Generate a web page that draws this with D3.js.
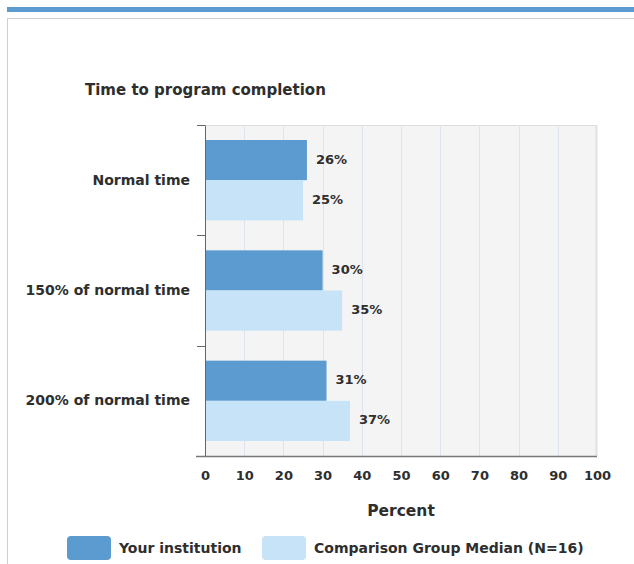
<!DOCTYPE html>
<html lang="en">
<head>
    <meta charset="utf-8">
    <title>Time to program completion</title>
    <style>
        html, body { margin: 0; padding: 0; background: #fff; }
        text { font-family: "DejaVu Sans", sans-serif; font-weight: bold; fill: #2e2e2e; }
    </style>
</head>
<body>
    <svg id="chart" width="634" height="564"></svg>
    <script src="https://cdn.jsdelivr.net/npm/d3@7"></script>
    <script>
        // data
        const categories = ["Normal time", "150% of normal time", "200% of normal time"];
        const seriesNames = ["Your institution", "Comparison Group Median (N=16)"];
        const institution = [26, 30, 31];
        const comparison = [25, 35, 37];
        const xTicks = [0, 10, 20, 30, 40, 50, 60, 70, 80, 90, 100];

        const colors = ["#5b9bd0", "#c6e3f7"];

        const svg = d3.select("#chart");
        const width = +svg.attr("width");
        const height = +svg.attr("height");

        // page chrome
        svg.append("rect")
            .attr("x", 7).attr("y", 7)
            .attr("width", width - 7).attr("height", 5)
            .attr("fill", "#5b9bd0");
        svg.append("rect")
            .attr("x", 7.5).attr("y", 18.5)
            .attr("width", 700).attr("height", 700)
            .attr("fill", "none")
            .attr("stroke", "#cfcfcf");

        svg.append("text")
            .attr("x", 85).attr("y", 95)
            .attr("font-size", 15)
            .text("Time to program completion");

        const margin = {left: 205, right: 37, top: 125, bottom: 108};
        const x = d3.scaleLinear()
            .domain([0, 100])
            .range([margin.left, width - margin.right]);
        const y = d3.scaleBand()
            .domain(categories)
            .range([margin.top, height - margin.bottom]);
        const ySub = d3.scaleBand()
            .domain(d3.range(seriesNames.length))
            .range([15, y.bandwidth() - 15]);

        const rows = categories.map((c, i) => ({
            cat: c,
            values: [institution[i], comparison[i]]
        }));

        // plot background
        svg.append("rect")
            .attr("x", x(0)).attr("y", margin.top)
            .attr("width", x(100) - x(0))
            .attr("height", height - margin.bottom - margin.top)
            .attr("fill", "#f4f4f4");
        svg.append("line")
            .attr("x1", x(0)).attr("x2", x(100))
            .attr("y1", margin.top + 0.5).attr("y2", margin.top + 0.5)
            .attr("stroke", "#dcdcdc");
        svg.append("line")
            .attr("x1", x(100) - 0.5).attr("x2", x(100) - 0.5)
            .attr("y1", margin.top).attr("y2", height - margin.bottom)
            .attr("stroke", "#dfe1e6").attr("stroke-width", 2);

        // grid
        svg.append("g")
            .selectAll("line")
            .data(xTicks.slice(1, -1))
            .join("line")
                .attr("x1", d => Math.round(x(d)) + 0.5)
                .attr("x2", d => Math.round(x(d)) + 0.5)
                .attr("y1", margin.top)
                .attr("y2", height - margin.bottom)
                .attr("stroke", "#dde4f0");

        // bars
        const groups = svg.append("g")
            .selectAll("g")
            .data(rows)
            .join("g")
                .attr("transform", d => `translate(0,${y(d.cat)})`);

        groups.selectAll("rect")
            .data(d => d.values.map((v, i) => ({v, i})))
            .join("rect")
                .attr("x", x(0))
                .attr("y", d => ySub(d.i))
                .attr("width", d => x(d.v) - x(0))
                .attr("height", ySub.bandwidth())
                .attr("fill", d => colors[d.i]);

        groups.selectAll("text")
            .data(d => d.values.map((v, i) => ({v, i})))
            .join("text")
                .attr("x", d => x(d.v) + 9)
                .attr("y", d => ySub(d.i) + ySub.bandwidth() / 2 - 1)
                .attr("dy", "0.35em")
                .attr("font-size", 13)
                .text(d => d.v + "%");

        // y axis
        const yAxis = svg.append("g")
            .attr("transform", `translate(${x(0)},0)`)
            .call(d3.axisLeft(y).tickSize(0).tickPadding(15));
        yAxis.select(".domain").attr("stroke", "#666");
        yAxis.selectAll("text")
            .attr("font-size", 14)
            .attr("font-family", "DejaVu Sans")
            .attr("fill", "#2e2e2e");
        yAxis.append("g")
            .selectAll("line")
            .data(categories.map(c => y(c)).concat([y.range()[1]]))
            .join("line")
                .attr("x1", -8).attr("x2", 0)
                .attr("y1", d => Math.round(d) + 0.5)
                .attr("y2", d => Math.round(d) + 0.5)
                .attr("stroke", "#666");

        // x axis
        const xAxis = svg.append("g")
            .attr("transform", `translate(0,${height - margin.bottom})`)
            .call(d3.axisBottom(x).tickValues(xTicks).tickSize(0).tickPadding(15));
        xAxis.select(".domain").remove();
        xAxis.append("line")
            .attr("x1", x(0) - 9).attr("x2", x(100))
            .attr("y1", 0.5).attr("y2", 0.5)
            .attr("stroke", "#777").attr("stroke-width", 1.5);
        xAxis.selectAll(".tick text")
            .attr("font-size", 13)
            .attr("font-family", "DejaVu Sans")
            .attr("fill", "#2e2e2e");

        svg.append("text")
            .attr("x", (x(0) + x(100)) / 2)
            .attr("y", 516)
            .attr("text-anchor", "middle")
            .attr("font-size", 15.5)
            .text("Percent");

        // legend
        const legendX = [67, 262];
        const legend = svg.append("g")
            .selectAll("g")
            .data(seriesNames)
            .join("g")
                .attr("transform", (d, i) => `translate(${legendX[i]},536)`);
        legend.append("rect")
            .attr("width", 44).attr("height", 24)
            .attr("rx", 4)
            .attr("fill", (d, i) => colors[i]);
        legend.append("text")
            .attr("x", 52).attr("y", 12)
            .attr("dy", "0.35em")
            .attr("font-size", 14)
            .text(d => d);
    </script>
</body>
</html>
